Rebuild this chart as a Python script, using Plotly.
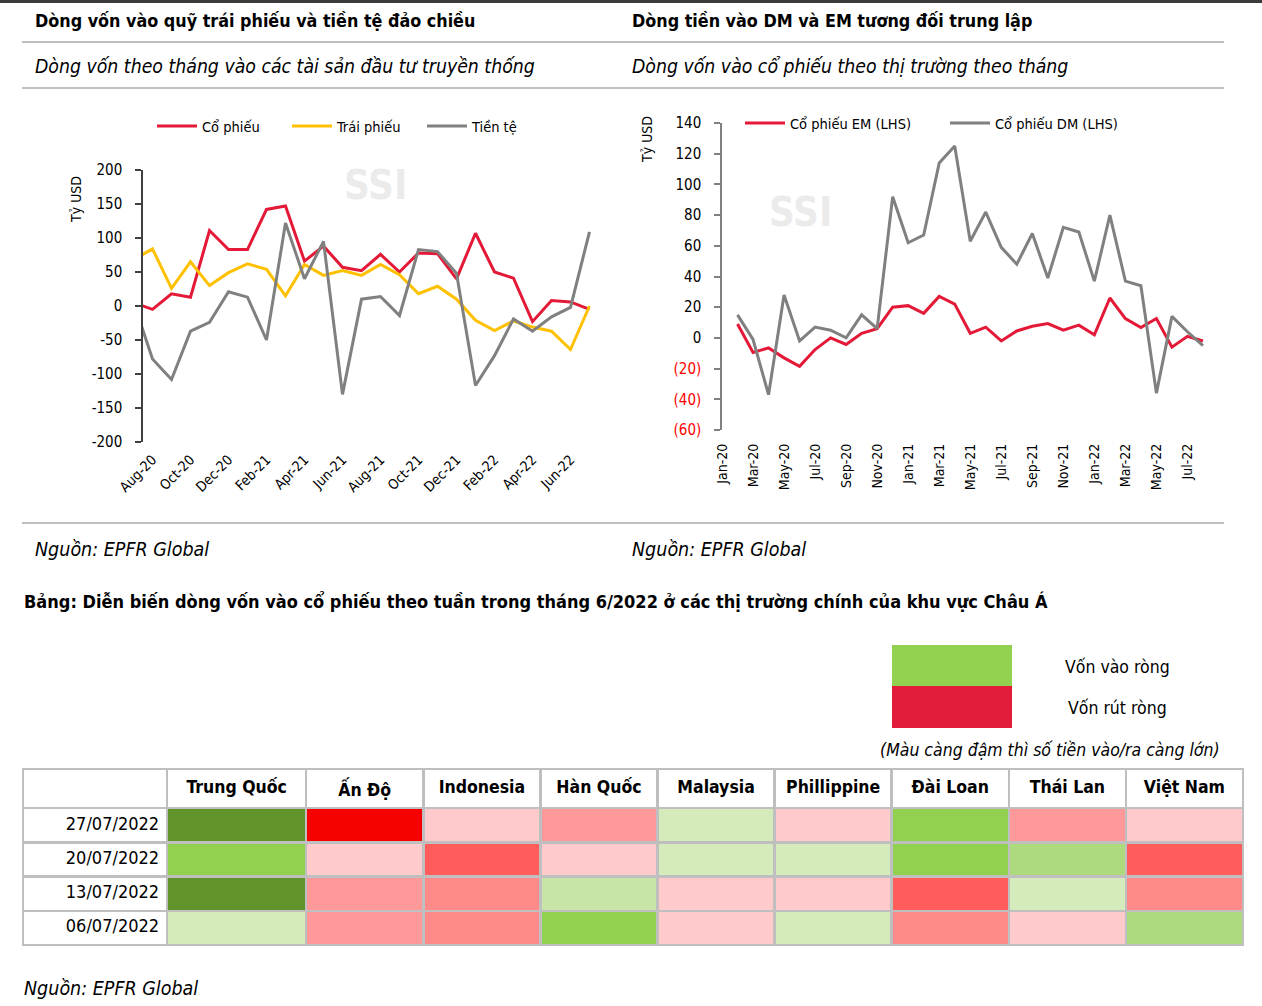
import plotly.graph_objects as go

W, H = 1262, 1006
FONT = "DejaVu Sans Condensed, Roboto, sans-serif"

# ---------------- Left chart data (monthly flows, bn USD) ----------------
left_months = ["Jul-20", "Aug-20", "Sep-20", "Oct-20", "Nov-20", "Dec-20",
               "Jan-21", "Feb-21", "Mar-21", "Apr-21", "May-21", "Jun-21",
               "Jul-21", "Aug-21", "Sep-21", "Oct-21", "Nov-21", "Dec-21",
               "Jan-22", "Feb-22", "Mar-22", "Apr-22", "May-22", "Jun-22", "Jul-22"]
co_phieu = [5, -5, 18, 13, 111, 83, 83, 142, 147, 66, 88, 57, 52, 76, 50, 78, 77, 40,
            107, 50, 41, -23, 8, 6, -5]
trai_phieu = [68, 84, 26, 65, 30, 49, 62, 54, 15, 61, 45, 52, 45, 61, 46, 18, 29, 10,
              -21, -36, -22, -31, -37, -64, 0]
tien_te = [6, -78, -108, -37, -24, 21, 13, -50, 122, 40, 95, -130, 10, 14, -14, 83, 80, 48,
           -117, -73, -19, -37, -16, -2, 109]
left_tick_labels = ["Aug-20", "Oct-20", "Dec-20", "Feb-21", "Apr-21", "Jun-21",
                    "Aug-21", "Oct-21", "Dec-21", "Feb-22", "Apr-22", "Jun-22"]
left_yticks = [-200, -150, -100, -50, 0, 50, 100, 150, 200]

# ---------------- Right chart data (monthly equity flows, bn USD) ----------------
right_months = ["Jan-20", "Feb-20", "Mar-20", "Apr-20", "May-20", "Jun-20", "Jul-20", "Aug-20",
                "Sep-20", "Oct-20", "Nov-20", "Dec-20", "Jan-21", "Feb-21", "Mar-21", "Apr-21",
                "May-21", "Jun-21", "Jul-21", "Aug-21", "Sep-21", "Oct-21", "Nov-21", "Dec-21",
                "Jan-22", "Feb-22", "Mar-22", "Apr-22", "May-22", "Jun-22", "Jul-22", "Aug-22"]
em_equity = [None, 9, -9.5, -6.5, -13, -18.5, -7.6, 0, -4.3, 3, 6, 20, 21, 16, 27, 22,
             3, 7, -2, 4.5, 7.6, 9.3, 5, 8.3, 2, 26, 12.6, 6.7, 12.6, -6, 1, -2]
dm_equity = [None, 15, -1, -37, 28, -2, 7, 5, 0, 15, 6, 92, 62, 67, 114, 125,
             63, 82, 59, 48, 68, 39, 72, 69, 37, 80, 37, 34, -36, 14, 4, -5]
right_tick_labels = right_months[::2]
right_yticks = [-60, -40, -20, 0, 20, 40, 60, 80, 100, 120, 140]

# ---------------- Table data (weekly flow intensity: + inflow, - outflow) ----------------
table_countries = ["Trung Quốc", "Ấn Độ", "Indonesia", "Hàn Quốc", "Malaysia",
                   "Phillippine", "Đài Loan", "Thái Lan", "Việt Nam"]
table_dates = ["27/07/2022", "20/07/2022", "13/07/2022", "06/07/2022"]
flow_27_07 = [5, -5, -1, -2, 1, -1, 4, -2, -1]
flow_20_07 = [4, -1, -4, -1, 1, 1, 4, 3, -4]
flow_13_07 = [5, -2, -3, 2, -1, -1, -4, 1, -3]
flow_06_07 = [1, -2, -3, 4, -1, 1, -3, -1, 3]

level_colors = {5: "#60932A", 4: "#92D050", 3: "#AEDA7E", 2: "#C8E4A6", 1: "#D5EBBB",
                -1: "#FFCACC", -2: "#FF9999", -3: "#FF8A8A", -4: "#FF5C5C", -5: "#F70000"}

RED = "#E31937"
YELLOW = "#FFC000"
GRAY = "#808080"


def px(x):
    return x / W


def py(y):
    return 1 - y / H


fig = go.Figure()

# ---- Left chart traces ----
for name, vals, col in [("Cổ phiếu", co_phieu, RED), ("Trái phiếu", trai_phieu, YELLOW),
                        ("Tiền tệ", tien_te, GRAY)]:
    fig.add_trace(go.Scatter(x=left_months, y=vals, mode="lines", name=name,
                             line=dict(color=col, width=3), xaxis="x", yaxis="y",
                             legend="legend"))

# ---- Right chart traces ----
for name, vals, col in [("Cổ phiếu EM (LHS)", em_equity, RED), ("Cổ phiếu DM (LHS)", dm_equity, GRAY)]:
    fig.add_trace(go.Scatter(x=right_months, y=vals, mode="lines", name=name,
                             line=dict(color=col, width=3), xaxis="x2", yaxis="y2",
                             legend="legend2"))

# ---- Table ----
rows = [flow_27_07, flow_20_07, flow_13_07, flow_06_07]
fills = [["white"] * len(table_dates)]
for ci in range(len(table_countries)):
    fills.append([level_colors[r[ci]] for r in rows])
fig.add_trace(go.Table(
    domain=dict(x=[px(23), px(1243)], y=[py(950), py(769)]),
    columnwidth=[144, 139] + [117] * 8,
    header=dict(values=[""] + ["<b>%s</b>" % c for c in table_countries],
                fill_color="white", line=dict(color="#BFBFBF", width=2.5),
                align="center", height=35,
                font=dict(family=FONT, size=17.5, color="black")),
    cells=dict(values=[table_dates] + [[""] * len(table_dates) for _ in table_countries],
               fill_color=fills, line=dict(color="#BFBFBF", width=2.5),
               align=["right"] + ["center"] * len(table_countries), height=34.3,
               font=dict(family=FONT, size=18, color="black")),
))

# ---- Axes ----
L_dom_x = [px(143), px(599)]
L_dom_y = [py(442), py(170)]
R_dom_x = [px(722), px(1207)]
R_dom_y = [py(430), py(123)]
L_zero = (L_dom_y[0] + L_dom_y[1]) / 2
R_zero = R_dom_y[0] + (R_dom_y[1] - R_dom_y[0]) * 60 / 200

axis_font = dict(family=FONT, size=15, color="black")

fig.update_layout(
    template="none",
    width=W, height=H, margin=dict(l=0, r=0, t=0, b=0, pad=0, autoexpand=False),
    paper_bgcolor="white", plot_bgcolor="rgba(0,0,0,0)",
    font=dict(family=FONT, color="black"),
    xaxis=dict(domain=L_dom_x, type="category", range=[0.5, 24.5], anchor="y", automargin=False,
               showline=False, showgrid=False, zeroline=False, ticks="", ticklabelstandoff=6,
               tickmode="array", tickvals=left_tick_labels, ticktext=left_tick_labels,
               tickangle=-45, tickfont=dict(family=FONT, size=14, color="black")),
    yaxis=dict(domain=L_dom_y, range=[-200, 200], anchor="x", automargin=False,
               showgrid=False, zeroline=False,
               showline=True, linecolor="#404040", linewidth=1.5, ticks="outside", ticklen=6,
               tickcolor="#404040", tickwidth=1.5, tickmode="array", tickvals=left_yticks,
               ticklabelstandoff=10,
               ticktext=[str(v) for v in left_yticks], tickfont=axis_font),
    yaxis3=dict(overlaying="y", range=[-200, 200], anchor="x", automargin=False,
                showgrid=False, zeroline=False,
                showline=False, ticks="inside", ticklen=5, tickcolor="#404040", tickwidth=1.5,
                tickmode="array", tickvals=left_yticks, showticklabels=False),
    xaxis3=dict(overlaying="x", type="linear", range=[0.5, 24.5], anchor="free", automargin=False,
                position=L_zero, showgrid=False, zeroline=False, showline=True,
                linecolor=GRAY, linewidth=2, ticks="inside", ticklen=6, tickcolor=GRAY,
                tickwidth=1.5, tickmode="array", tickvals=[2.5 + 2 * i for i in range(12)],
                showticklabels=False),
    xaxis2=dict(domain=R_dom_x, type="category", range=[0, 31.26], anchor="y2", automargin=False,
                showline=False, showgrid=False, zeroline=False, ticks="", ticklabelstandoff=10,
                tickmode="array", tickvals=right_tick_labels, ticktext=right_tick_labels,
                tickangle=-90, tickfont=dict(family=FONT, size=14, color="black")),
    yaxis2=dict(domain=R_dom_y, range=[-60, 140], anchor="x2", automargin=False,
                showgrid=False, zeroline=False,
                showline=True, linecolor=GRAY, linewidth=1.5, ticks="outside", ticklen=6,
                tickcolor=GRAY, tickwidth=1.5, tickmode="array", tickvals=right_yticks,
                ticklabelstandoff=10,
                ticktext=[("<span style='color:#FF0000'>(%d)</span>" % -v) if v < 0 else str(v)
                          for v in right_yticks],
                tickfont=axis_font),
    xaxis4=dict(overlaying="x2", type="linear", range=[0, 31.26], anchor="free", automargin=False,
                position=R_zero, showgrid=False, zeroline=False, showline=True,
                linecolor=GRAY, linewidth=2, ticks="inside", ticklen=6, tickcolor=GRAY,
                tickwidth=1.5, tickmode="array", tickvals=[2 * i for i in range(1, 16)],
                showticklabels=False),
    legend=dict(orientation="h", x=px(152), y=py(126), xanchor="left", yanchor="middle",
                font=dict(family=FONT, size=14.5, color="black"), bgcolor="rgba(0,0,0,0)",
                entrywidth=80, entrywidthmode="pixels", itemwidth=40),
    legend2=dict(orientation="h", x=px(740), y=py(123), xanchor="left", yanchor="middle",
                 font=dict(family=FONT, size=14.5, color="black"), bgcolor="rgba(0,0,0,0)",
                 entrywidth=150, entrywidthmode="pixels", itemwidth=40),
    showlegend=True,
)

# ---- Decorations: lines, boxes ----
shapes = [
    dict(type="rect", xref="paper", yref="paper", x0=0, x1=1, y0=py(3), y1=1,
         fillcolor="#3A3A3A", line=dict(width=0)),
]
for yy in [42, 88, 523]:
    shapes.append(dict(type="line", xref="paper", yref="paper", x0=px(22), x1=px(1224),
                       y0=py(yy), y1=py(yy), line=dict(color="#BFBFBF", width=2)))
shapes.append(dict(type="rect", xref="paper", yref="paper", x0=px(892), x1=px(1012),
                   y0=py(686), y1=py(645), fillcolor="#92D050", line=dict(width=0)))
shapes.append(dict(type="rect", xref="paper", yref="paper", x0=px(892), x1=px(1012),
                   y0=py(728), y1=py(686), fillcolor="#E31B3A", line=dict(width=0)))
fig.update_layout(shapes=shapes)


def ann(text, x, y, size, xanchor="left", italic=False, bold=False, color="black", angle=0):
    t = text
    if bold:
        t = "<b>%s</b>" % t
    if italic:
        t = "<i>%s</i>" % t
    fig.add_annotation(text=t, x=px(x), y=py(y), xref="paper", yref="paper",
                       xanchor=xanchor, yanchor="middle", showarrow=False, textangle=angle,
                       font=dict(family=FONT, size=size, color=color))


ann("Dòng vốn vào quỹ trái phiếu và tiền tệ đảo chiều", 33, 21, 17.8, bold=True)
ann("Dòng tiền vào DM và EM tương đối trung lập", 630, 21, 17.8, bold=True)
ann("Dòng vốn theo tháng vào các tài sản đầu tư truyền thống", 33, 66, 19.3, italic=True)
ann("Dòng vốn vào cổ phiếu theo thị trường theo tháng", 630, 66, 19.3, italic=True)
ann("Tỷ USD", 76, 200, 14, xanchor="center", angle=-90)
ann("Tỷ USD", 647, 140, 14, xanchor="center", angle=-90)
ann("SSI", 375, 185, 40, xanchor="center", bold=True, color="#EBEBEB")
ann("SSI", 800, 212, 40, xanchor="center", bold=True, color="#EBEBEB")
ann("Nguồn: EPFR Global", 33, 549, 19.5, italic=True)
ann("Nguồn: EPFR Global", 630, 549, 19.5, italic=True)
ann("Bảng: Diễn biến dòng vốn vào cổ phiếu theo tuần trong tháng 6/2022 ở các thị trường chính của khu vực Châu Á",
    22, 601, 18, bold=True)
ann("Vốn vào ròng", 1117, 667, 17.5, xanchor="center")
ann("Vốn rút ròng", 1117, 708, 17.5, xanchor="center")
ann("(Màu càng đậm thì số tiền vào/ra càng lớn)", 1222, 750, 17.5, xanchor="right", italic=True)
ann("Nguồn: EPFR Global", 22, 988, 19.5, italic=True)

fig.write_html("out.html", config={"displayModeBar": False},
               post_script="document.body.style.margin='0px';document.body.style.overflow='hidden';")
